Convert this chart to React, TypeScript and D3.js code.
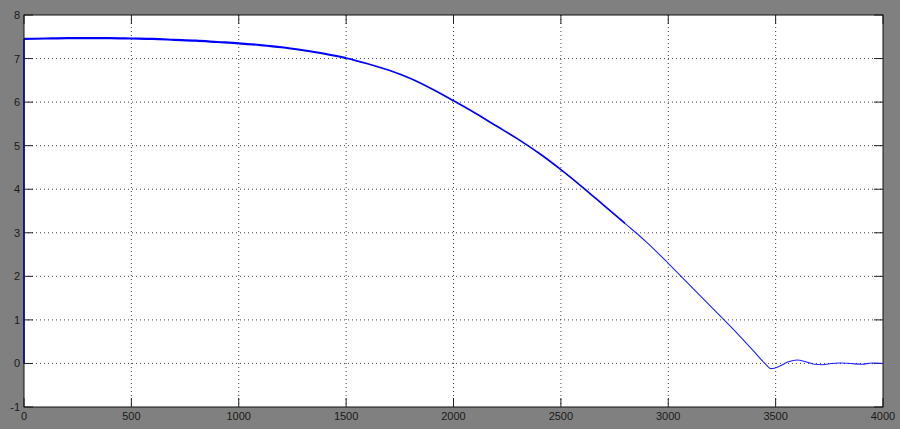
import React from "react";
import * as d3 from "d3";

const xTicks = [0, 500, 1000, 1500, 2000, 2500, 3000, 3500, 4000];
const yTicks = [-1, 0, 1, 2, 3, 4, 5, 6, 7, 8];

const sampleX = [
  0, 0, 100, 200, 300, 400, 500, 600, 700, 800, 900, 1000, 1100, 1200, 1300, 1400,
  1500, 1600, 1700, 1800, 1900, 2000, 2100, 2200, 2300, 2400, 2500, 2600, 2700,
  2800, 2900, 3000, 3100, 3200, 3300, 3400, 3450, 3480, 3520, 3560, 3600, 3640,
  3680, 3720, 3760, 3800, 3850, 3900, 3950, 4000,
];
const sampleY = [
  0, 7.45, 7.46, 7.47, 7.47, 7.47, 7.46, 7.45, 7.43, 7.41, 7.38, 7.35, 7.31, 7.26,
  7.19, 7.11, 7.01, 6.88, 6.73, 6.54, 6.3, 6.03, 5.75, 5.45, 5.15, 4.82, 4.45, 4.05,
  3.63, 3.21, 2.78, 2.3, 1.8, 1.3, 0.8, 0.27, 0.0, -0.12, -0.06, 0.04, 0.08, 0.04,
  -0.02, -0.03, 0.0, 0.01, 0.0, -0.02, 0.01, 0.0,
];

const W = 900;
const H = 429;
const L = 24, T = 15, R = 883, B = 407;

export default function App() {
  const x = d3.scaleLinear().domain([0, 4000]).range([L, R]);
  const y = d3.scaleLinear().domain([-1, 8]).range([B, T]);
  const pts = sampleX.map((v, i) => ({ x: v, y: sampleY[i] }));
  const linear = d3
    .line<{ x: number; y: number }>()
    .x((d) => x(d.x))
    .y((d) => y(d.y));
  const smooth = d3
    .line<{ x: number; y: number }>()
    .x((d) => x(d.x))
    .y((d) => y(d.y))
    .curve(d3.curveMonotoneX);
  const jump = pts.slice(0, 2);
  const rest = pts.slice(1);
  const seg1 = rest.filter((d) => d.x <= 1600);
  const seg2 = rest.filter((d) => d.x >= 1400 && d.x <= 2900);
  const seg3 = rest.filter((d) => d.x >= 2700);
  const clip1 = [x(0) - 2, x(1500)];
  const clip2 = [x(1500), x(2800)];
  const clip3 = [x(2800), R];
  const tick = 9;
  const font = "'Liberation Sans', Arial, sans-serif";
  return (
    <svg
      width={W}
      height={H}
      style={{ position: "absolute", left: 0, top: 0 }}
    >
      <defs>
        <clipPath id="c1">
          <rect x={clip1[0]} y={0} width={clip1[1] - clip1[0]} height={H} />
        </clipPath>
        <clipPath id="c2">
          <rect x={clip2[0]} y={0} width={clip2[1] - clip2[0]} height={H} />
        </clipPath>
        <clipPath id="c3">
          <rect x={clip3[0]} y={0} width={clip3[1] - clip3[0]} height={H} />
        </clipPath>
      </defs>
      <rect x={0} y={0} width={W} height={H} fill="#808080" />
      <rect x={L} y={T} width={R - L} height={B - T} fill="#ffffff" />
      {xTicks.slice(1, -1).map((t) => (
        <line
          key={"gx" + t}
          x1={x(t)}
          x2={x(t)}
          y1={T}
          y2={B}
          stroke="#444"
          strokeWidth={1}
          strokeDasharray="1,3"
        />
      ))}
      {yTicks.slice(1, -1).map((t) => (
        <line
          key={"gy" + t}
          x1={L}
          x2={R}
          y1={y(t)}
          y2={y(t)}
          stroke="#444"
          strokeWidth={1}
          strokeDasharray="1,3"
        />
      ))}
      {xTicks.map((t) => (
        <g key={"tx" + t}>
          <line x1={x(t)} x2={x(t)} y1={B} y2={B - tick} stroke="#222" />
          <line x1={x(t)} x2={x(t)} y1={T} y2={T + tick} stroke="#222" />
          <text
            x={x(t)}
            y={B + 13}
            textAnchor="middle"
            fontFamily={font}
            fontSize={11}
            fill="#1a1a1a"
          >
            {t}
          </text>
        </g>
      ))}
      {yTicks.map((t) => (
        <g key={"ty" + t}>
          <line x1={L} x2={L + tick} y1={y(t)} y2={y(t)} stroke="#222" />
          <text
            x={L - 4}
            y={y(t) + 4}
            textAnchor="end"
            fontFamily={font}
            fontSize={11}
            fill="#1a1a1a"
          >
            {t}
          </text>
          <line x1={R} x2={R - tick} y1={y(t)} y2={y(t)} stroke="#222" />
        </g>
      ))}
      <path d={linear(jump) || ""} fill="none" stroke="#0000ff" strokeWidth={1.6} />
      <path d={smooth(seg1) || ""} clipPath="url(#c1)" fill="none" stroke="#0000ff" strokeWidth={2.2} strokeLinejoin="round" />
      <path d={smooth(seg2) || ""} clipPath="url(#c2)" fill="none" stroke="#0000ff" strokeWidth={1.7} strokeLinejoin="round" />
      <path d={smooth(seg3) || ""} clipPath="url(#c3)" fill="none" stroke="#1f1fff" strokeWidth={1.1} strokeLinejoin="round" />
      <rect
        x={L}
        y={T}
        width={R - L}
        height={B - T}
        fill="none"
        stroke="#111"
        strokeWidth={1}
      />
    </svg>
  );
}
